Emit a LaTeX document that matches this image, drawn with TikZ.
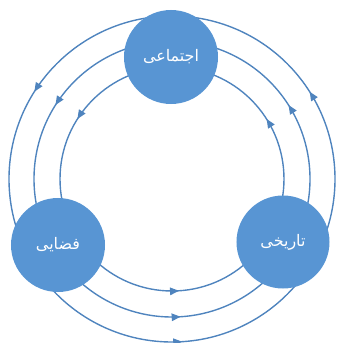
\documentclass[tikz,border=0pt]{standalone}
\usepackage{fontspec}
\newfontfamily\arabicfont[Script=Arabic]{DejaVu Sans}
\TeXXeTstate=1
\usetikzlibrary{arrows.meta,decorations.markings,calc}
\definecolor{ringline}{HTML}{4F84BE}
\definecolor{hubfill}{HTML}{5895D3}
\tikzset{
  ring/.style={ringline, line width=1.4pt,
    postaction={decorate, decoration={markings,
      mark=at position 0.16 with {\arrow{Triangle[length=9bp,width=7.5bp]}},
      mark=at position 0.51 with {\arrow{Triangle[length=9bp,width=7.5bp]}},
      mark=at position 0.84 with {\arrow{Triangle[length=9bp,width=7.5bp]}}}}},
  hub/.style={circle, fill=hubfill, draw=none, minimum size=94bp, inner sep=0pt,
    text=white, font=\arabicfont\fontsize{16}{18}\selectfont},
}

\begin{document}
\begin{tikzpicture}[x=1bp,y=1bp]
  \useasboundingbox (0,0) rectangle (337,343);

  % centre of the three rings
  \coordinate (mid) at (172,164);

  % rings, running counterclockwise from the top hub
  \foreach \r in {112,138,163}
    \draw[ring] ($(mid)+(90:\r)$) arc[start angle=90,end angle=450,radius=\r];

  % hubs on top of the rings
  \node[hub] (social) at (171,286) {\beginR اجتماعی\endR};
  \node[hub] (spatial) at (58,98) {\beginR فضایی\endR};
  \node[hub,minimum size=93bp] (historic) at (283,101) {\beginR تاریخی\endR};
\end{tikzpicture}
\end{document}
